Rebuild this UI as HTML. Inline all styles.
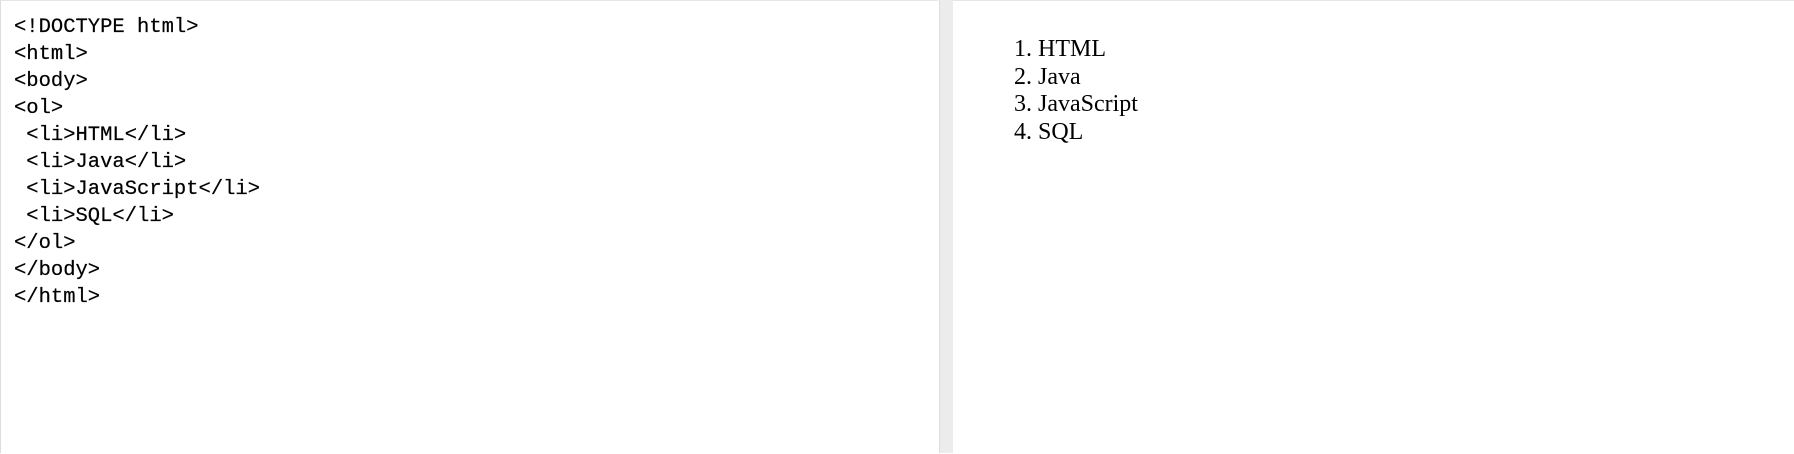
<!DOCTYPE html>
<html><head><style>
html,body{margin:0;padding:0;width:1794px;height:453px;background:#fff;overflow:hidden}
.l{position:absolute;left:0;top:0;width:938px;height:453px;border-left:1px solid #ddd;border-top:1px solid #e6e6e6;box-sizing:border-box}
.d{position:absolute;left:939px;top:0;width:14px;height:453px;background:#ececec;border-left:1px solid #ddd;box-sizing:border-box}
.r{position:absolute;left:953px;top:0;right:0;height:453px;border-top:1px solid #e6e6e6}
pre{position:absolute;left:14px;top:14px;margin:0;font:20.5px/27px "Liberation Mono",monospace;color:#000;-webkit-text-stroke:0.2px #000}
ol{position:absolute;left:1015px;top:36px;margin:0;padding:0 0 0 23px;font:24px/27.5px "Liberation Serif",serif;color:#000}
</style></head><body>
<div class="l"></div><div class="d"></div><div class="r"></div>
<pre>&lt;!DOCTYPE html&gt;
&lt;html&gt;
&lt;body&gt;
&lt;ol&gt;
 &lt;li&gt;HTML&lt;/li&gt;
 &lt;li&gt;Java&lt;/li&gt;
 &lt;li&gt;JavaScript&lt;/li&gt;
 &lt;li&gt;SQL&lt;/li&gt;
&lt;/ol&gt;
&lt;/body&gt;
&lt;/html&gt;</pre>
<ol><li>HTML</li><li>Java</li><li>JavaScript</li><li>SQL</li></ol>
</body></html>
